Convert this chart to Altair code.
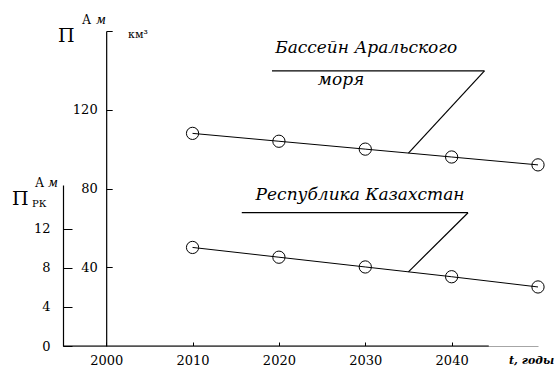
import altair as alt
import pandas as pd

# ---------------- data ----------------
years = [2010, 2020, 2030, 2040, 2050]
aral_basin = [108, 104, 100, 96, 92]        # outer scale (км³)
kazakhstan = [10.1, 9.1, 8.1, 7.1, 6.05]    # inner scale (П РК)

outer_ticks = [40, 80, 120, 160]
inner_ticks = [0, 4, 8, 12]
year_ticks = [2000, 2010, 2020, 2030, 2040]

aral_text = ["Бассейн Аральского", "моря"]
kz_text = ["Республика Казахстан"]

# annotation anchors (data units)
aral_text_year = [2030.1, 2027.2]
aral_text_val = [148.7, 132.6]
aral_bar_year = [2019.2, 2043.8]
aral_bar_val = [139.7]
aral_leader_year = [2043.8, 2035.0]
aral_leader_val = [139.7, 98.0]

kz_text_year = [2029.4]
kz_text_val = [15.0]
kz_bar_year = [2015.7, 2041.9]
kz_bar_val = [13.66]
kz_leader_year = [2041.9, 2035.0]
kz_leader_val = [13.66, 7.6]

axis_black_end = [1995, 2044.3]

# ---------------- layout ----------------
FONT = "DejaVu Serif"
W, H = 475, 315
X0, X1 = 1995, 2050
x2000 = (2000 - X0) / (X1 - X0) * W

x_scale = alt.Scale(domain=[X0, X1], nice=False, zero=False)
y_outer = alt.Scale(domain=[0, 160], nice=False, zero=True)
y_inner = alt.Scale(domain=[0, 16.5], range=[H, 154], nice=False, zero=True)

x_axis = alt.Axis(orient="top", offset=-H, values=year_ticks, format="d",
                  tickSize=4, labelPadding=-12, labelBaseline="top",
                  labelFontSize=13, labelFont=FONT, labelColor="black",
                  tickColor="black", domainColor="#a6a6a6", domainWidth=1.2,
                  grid=False, title=None, labelFlush=False, labelOverlap=False)

outer_axis = alt.Axis(orient="right", offset=x2000 - W, values=outer_ticks,
                      tickSize=6, labelPadding=-15, labelAlign="right",
                      labelBaseline="middle",
                      labelExpr="datum.value == 160 ? '' : datum.label",
                      labelFontSize=13, labelFont=FONT, labelColor="black",
                      tickColor="black", domainColor="black", domainWidth=1.2,
                      grid=False, title=None, labelFlush=False, labelOverlap=False)

inner_axis = alt.Axis(orient="right", offset=-W, values=inner_ticks,
                      tickSize=9, labelPadding=-22, labelAlign="right",
                      labelBaseline="middle",
                      labelFontSize=13, labelFont=FONT, labelColor="black",
                      tickColor="black", domainColor="black", domainWidth=1.2,
                      grid=False, title=None, labelFlush=False, labelOverlap=False)


def X(field):
    return alt.X(f"{field}:Q", scale=x_scale, axis=x_axis)


def YO(field):
    return alt.Y(f"{field}:Q", scale=y_outer, axis=outer_axis)


def YI(field):
    return alt.Y(f"{field}:Q", scale=y_inner, axis=inner_axis)


# ---------------- outer (Aral basin) ----------------
df_a = pd.DataFrame({"year": years, "v": aral_basin})
line_a = alt.Chart(df_a).mark_line(color="black", strokeWidth=1).encode(x=X("year"), y=YO("v"))
pts_a = alt.Chart(df_a).mark_point(shape="circle", size=150, color="black", filled=False,
                                   strokeWidth=1, opacity=1).encode(x=X("year"), y=YO("v"))

df_at = pd.DataFrame({"year": aral_text_year, "v": aral_text_val, "t": aral_text})
text_a = alt.Chart(df_at).mark_text(font=FONT, fontSize=17, fontStyle="italic", color="black",
                                    align="center", baseline="alphabetic").encode(
    x=X("year"), y=YO("v"), text="t:N")

df_ab = pd.DataFrame({"year": [aral_bar_year[0]], "year2": [aral_bar_year[1]], "v": aral_bar_val})
bar_a = alt.Chart(df_ab).mark_rule(color="black", strokeWidth=1.3).encode(
    x=X("year"), x2="year2:Q", y=YO("v"))

df_al = pd.DataFrame({"year": [aral_leader_year[0]], "year2": [aral_leader_year[1]],
                      "v": [aral_leader_val[0]], "v2": [aral_leader_val[1]]})
lead_a = alt.Chart(df_al).mark_rule(color="black", strokeWidth=1.2).encode(
    x=X("year"), x2="year2:Q", y=YO("v"), y2="v2:Q")

df_xb = pd.DataFrame({"a": [axis_black_end[0]], "b": [axis_black_end[1]]})
xline = alt.Chart(df_xb).mark_rule(color="black", strokeWidth=1.2).encode(
    x=X("a"), x2="b:Q", y=alt.value(H))

outer = alt.layer(line_a, pts_a, text_a, bar_a, lead_a, xline)

# ---------------- inner (Kazakhstan) ----------------
df_b = pd.DataFrame({"year": years, "v": kazakhstan})
line_b = alt.Chart(df_b).mark_line(color="black", strokeWidth=1).encode(x=X("year"), y=YI("v"))
pts_b = alt.Chart(df_b).mark_point(shape="circle", size=150, color="black", filled=False,
                                   strokeWidth=1, opacity=1).encode(x=X("year"), y=YI("v"))

df_bt = pd.DataFrame({"year": kz_text_year, "v": kz_text_val, "t": kz_text})
text_b = alt.Chart(df_bt).mark_text(font=FONT, fontSize=17, fontStyle="italic", color="black",
                                    align="center", baseline="alphabetic").encode(
    x=X("year"), y=YI("v"), text="t:N")

df_bb = pd.DataFrame({"year": [kz_bar_year[0]], "year2": [kz_bar_year[1]], "v": kz_bar_val})
bar_b = alt.Chart(df_bb).mark_rule(color="black", strokeWidth=1.3).encode(
    x=X("year"), x2="year2:Q", y=YI("v"))

df_bl = pd.DataFrame({"year": [kz_leader_year[0]], "year2": [kz_leader_year[1]],
                      "v": [kz_leader_val[0]], "v2": [kz_leader_val[1]]})
lead_b = alt.Chart(df_bl).mark_rule(color="black", strokeWidth=1.2).encode(
    x=X("year"), x2="year2:Q", y=YI("v"), y2="v2:Q")

inner = alt.layer(line_b, pts_b, text_b, bar_b, lead_b)

# ---------------- axis captions ----------------
def caption(txt, x, y, size, style="normal", weight="normal"):
    return alt.Chart(pd.DataFrame({"t": [txt]})).mark_text(
        font=FONT, fontSize=size, fontStyle=style, fontWeight=weight, color="black",
        align="left", baseline="alphabetic").encode(
        x=alt.value(x), y=alt.value(y), text="t:N")


captions = [
    caption("П", -5, 11, 19),
    caption("А", 19, -7, 12),
    caption("м", 33, -7, 12, "italic"),
    caption("км³", 65, 7, 11),
    caption("П", -51, 174, 19),
    caption("РК", -31, 176, 10),
    caption("А", -28, 156, 12),
    caption("м", -15, 156, 12, "italic"),
    caption("t, годы", 446, 333, 11, "italic", "bold"),
]

chart = alt.layer(outer, inner, *captions).resolve_scale(y="independent").properties(
    width=W, height=H,
    autosize=alt.AutoSizeParams(type="none"),
    padding={"left": 63, "top": 31, "right": 20, "bottom": 21},
    background="white",
).configure_view(stroke=None)

chart.save("out.html", embed_options={"renderer": "svg", "actions": False})
